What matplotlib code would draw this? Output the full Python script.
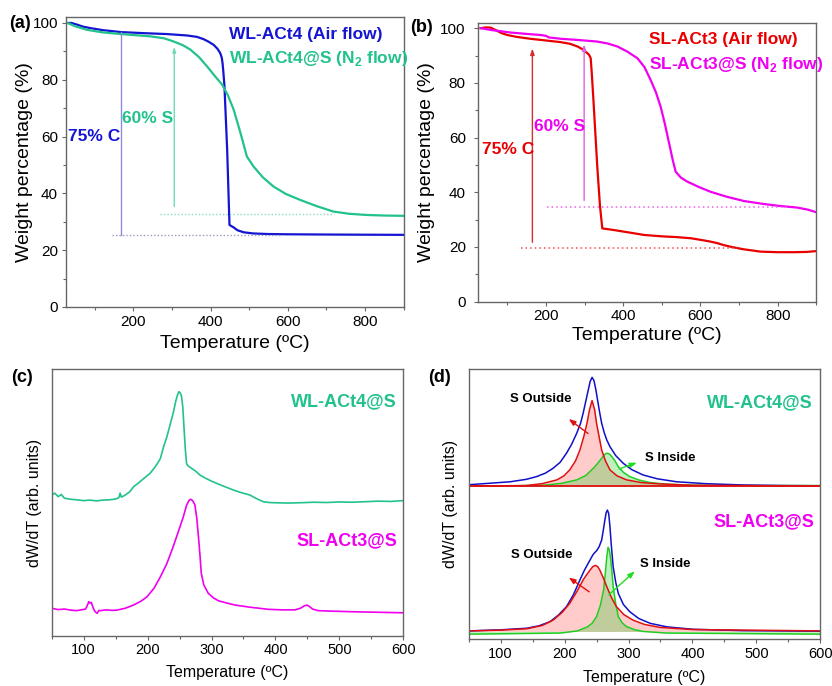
"""
TGA / DTG figure: (a,b) weight loss curves, (c) dW/dT, (d) dW/dT peak fits.
"""
import numpy as np
import matplotlib
matplotlib.use("Agg")
import matplotlib.pyplot as plt
from matplotlib.ticker import MultipleLocator

plt.rcParams["font.family"] = ["Liberation Sans", "DejaVu Sans"]
plt.rcParams["mathtext.fontset"] = "custom"
plt.rcParams["mathtext.rm"] = "Liberation Sans"
plt.rcParams["mathtext.bf"] = "Liberation Sans:bold"

# ---------------------------------------------------------------------------
#  Data
# ---------------------------------------------------------------------------
# (a) WL-ACt4 in air
wl_air_T = [30, 40, 55, 70, 89, 120, 168, 230, 287, 339, 365, 382, 395, 408, 418, 425, 429,
            431, 433, 436, 443, 449, 455, 460, 470, 486, 510, 546, 600, 720, 900]
wl_air_W = [100, 100, 99.4, 98.7, 98.2, 97.5, 96.8, 96.4, 96.1, 95.6, 95.1, 94.3, 93.4, 92.3,
            90.9, 89.4, 87.8, 85.9, 83.0, 77.7, 55.3, 28.9, 28.4, 28.0, 27.0, 26.3, 25.9,
            25.7, 25.6, 25.5, 25.4]
# (a) WL-ACt4@S in N2
wl_s_T = [30, 50, 80, 120, 168, 244, 280, 304, 328, 348, 370, 391, 410, 430, 445, 460, 477,
          494, 511, 535, 563, 595, 632, 675, 718, 760, 805, 850, 900]
wl_s_W = [100, 98.8, 97.6, 96.7, 96.1, 95.3, 94.6, 93.5, 92.2, 90.6, 88.0, 84.7, 81.5, 78.3,
          74.5, 69.4, 61.5, 53.0, 49.5, 45.7, 42.4, 39.8, 37.7, 35.5, 33.6, 32.8, 32.4, 32.2, 32.1]

# (b) SL-ACt3 in air
sl_air_T = [31, 45, 57, 70, 85, 100, 125, 161, 200, 238, 262, 282, 296, 307, 312, 316, 319,
            323, 333, 340, 346, 376, 420, 454, 500, 540, 575, 601, 625, 644, 660, 678, 710,
            756, 800, 842, 875, 900]
sl_air_W = [100, 100.3, 100.2, 99.3, 98.2, 97.5, 96.8, 96.1, 95.5, 94.9, 94.3, 93.3, 92.2,
            90.9, 90.2, 89.0, 83.0, 73.8, 49.4, 35.0, 26.8, 26.2, 25.2, 24.4, 23.9, 23.6,
            23.2, 22.6, 22.0, 21.4, 20.7, 20.1, 19.2, 18.3, 18.1, 18.1, 18.2, 18.5]
# (b) SL-ACt3@S in N2
sl_s_T = [31, 60, 109, 150, 187, 200, 208, 240, 282, 333, 360, 385, 410, 437, 455, 471, 485,
          497, 508, 519, 528, 536, 550, 566, 595, 626, 670, 713, 760, 799, 851, 880, 900]
sl_s_W = [100, 99.3, 98.4, 97.9, 97.5, 97.2, 96.6, 96.1, 95.7, 95.1, 94.4, 93.3, 91.5, 89.0,
          85.8, 81.1, 76.5, 71.3, 65.0, 57.9, 52.0, 47.5, 45.3, 43.9, 42.0, 40.2, 38.3, 36.8,
          35.8, 35.1, 34.4, 33.6, 32.7]

# (c) dW/dT, arbitrary units, offset curves
dtg_wl_T = [50, 55, 60, 65, 70, 80, 90, 100, 110, 120, 130, 140, 150, 155, 157, 159, 165, 172,
            178, 185, 192, 199, 204, 210, 215, 220, 225, 230, 235, 240, 244, 247, 249, 251,
            253, 255, 257, 259, 261, 264, 269, 275, 282, 290, 300, 308, 318, 334, 345, 360,
            370, 381, 390, 400, 420, 438, 460, 480, 500, 520, 540, 560, 580, 600]
dtg_wl_y = [0.528, 0.535, 0.522, 0.53, 0.516, 0.512, 0.51, 0.507, 0.509, 0.506, 0.509, 0.51,
            0.513, 0.518, 0.535, 0.52, 0.528, 0.54, 0.559, 0.572, 0.586, 0.6, 0.61, 0.628,
            0.645, 0.665, 0.709, 0.745, 0.79, 0.835, 0.88, 0.905, 0.916, 0.912, 0.9, 0.86,
            0.78, 0.7, 0.645, 0.636, 0.628, 0.618, 0.603, 0.592, 0.58, 0.572, 0.562, 0.547,
            0.538, 0.528, 0.515, 0.503, 0.5, 0.499, 0.498, 0.499, 0.501, 0.5, 0.502, 0.501,
            0.503, 0.505, 0.504, 0.507]
dtg_sl_T = [50, 60, 70, 80, 89, 96, 103, 106, 108, 110, 112, 114, 116, 118, 121, 124, 126, 135,
            145, 152, 165, 178, 190, 199, 210, 220, 230, 240, 248, 256, 261, 265, 267, 269,
            271, 274, 277, 280, 282, 284, 288, 295, 303, 311, 325, 337, 360, 389, 410, 431,
            440, 445, 449, 453, 458, 467, 490, 520, 560, 600]
dtg_sl_y = [0.103, 0.098, 0.1, 0.096, 0.094, 0.097, 0.1, 0.115, 0.128, 0.122, 0.125, 0.11,
            0.098, 0.09, 0.084, 0.095, 0.094, 0.097, 0.095, 0.096, 0.103, 0.115, 0.13, 0.146,
            0.178, 0.221, 0.27, 0.334, 0.39, 0.447, 0.49, 0.508, 0.512, 0.51, 0.505, 0.491,
            0.44, 0.359, 0.3, 0.234, 0.19, 0.159, 0.142, 0.131, 0.122, 0.115, 0.107, 0.099,
            0.097, 0.097, 0.104, 0.112, 0.115, 0.11, 0.1, 0.094, 0.092, 0.09, 0.088, 0.086]

# (d) peak fits, WL-ACt4@S (top)
fit_wl_T = [50, 80, 115, 140, 156, 170, 182, 193, 203, 211, 219, 225, 229, 233, 237, 240, 243,
            246, 249, 252, 255, 258, 262, 266, 271, 280, 292, 305, 323, 345, 375, 420, 480,
            540, 600]
fit_wl_sum = [0.572, 0.577, 0.583, 0.592, 0.602, 0.615, 0.633, 0.655, 0.689, 0.722, 0.763,
              0.8, 0.837, 0.88, 0.923, 0.955, 0.970, 0.958, 0.923, 0.88, 0.838, 0.8, 0.765,
              0.738, 0.713, 0.68, 0.651, 0.628, 0.608, 0.594, 0.583, 0.576, 0.571, 0.569, 0.568]
out_wl_T = [50, 100, 140, 165, 188, 199, 208, 217, 224, 230, 235, 239, 243, 247, 250, 254,
            258, 264, 271, 282, 297, 320, 349, 400, 600]
out_wl_y = [0.567, 0.568, 0.569, 0.576, 0.590, 0.605, 0.627, 0.66, 0.701, 0.75, 0.800, 0.85,
            0.884, 0.85, 0.800, 0.75, 0.701, 0.66, 0.627, 0.605, 0.590, 0.58, 0.575, 0.57, 0.567]
in_wl_T = [50, 120, 167, 195, 219, 233, 245, 252, 258, 262, 266, 270, 274, 279, 284, 292, 302,
           317, 334, 360, 401, 500, 600]
in_wl_y = [0.567, 0.568, 0.570, 0.577, 0.590, 0.606, 0.633, 0.652, 0.670, 0.683, 0.689, 0.686,
           0.676, 0.66, 0.639, 0.618, 0.602, 0.589, 0.580, 0.574, 0.570, 0.569, 0.569]

# (d) peak fits, SL-ACt3@S (bottom)
fit_sl_T = [50, 100, 141, 160, 177, 190, 203, 214, 224, 231, 237, 241, 244, 247, 250, 254, 258,
            261, 263, 265, 267, 269, 271, 273, 276, 280, 284, 292, 302, 316, 334, 360, 401,
            480, 600]
fit_sl_sum = [0.030, 0.034, 0.040, 0.049, 0.064, 0.088, 0.120, 0.165, 0.219, 0.255, 0.281,
              0.298, 0.311, 0.32, 0.327, 0.342, 0.367, 0.41, 0.441, 0.468, 0.478, 0.465, 0.416,
              0.35, 0.268, 0.21, 0.169, 0.128, 0.101, 0.076, 0.058, 0.045, 0.036, 0.031, 0.029]
out_sl_T = [50, 100, 141, 165, 182, 196, 208, 219, 229, 235, 240, 244, 248, 252, 255, 260, 266,
            273, 281, 293, 307, 325, 349, 400, 600]
out_sl_y = [0.030, 0.033, 0.038, 0.05, 0.070, 0.098, 0.132, 0.175, 0.219, 0.240, 0.256, 0.268,
            0.273, 0.268, 0.256, 0.23, 0.194, 0.155, 0.120, 0.09, 0.070, 0.054, 0.043, 0.035, 0.030]
in_sl_T = [50, 193, 220, 235, 243, 250, 256, 261, 264, 266, 268, 270, 272, 274, 276, 280, 284,
           290, 297, 310, 323, 360, 600]
in_sl_y = [0.018, 0.022, 0.03, 0.044, 0.058, 0.083, 0.125, 0.182, 0.25, 0.305, 0.340, 0.33,
           0.3, 0.25, 0.194, 0.13, 0.083, 0.06, 0.046, 0.034, 0.028, 0.022, 0.018]

# composition markers
c_wl, s_wl = 25.4, 32.7     # residual levels, panel (a)
c_sl, s_sl = 19.5, 34.5     # residual levels, panel (b)

BLUE = "#1414d2"
GREEN = "#22c28c"
RED = "#e80000"
MAG = "#f000f0"

# ---------------------------------------------------------------------------
#  Figure layout (pixel boxes -> figure fractions)
# ---------------------------------------------------------------------------
W, H = 832, 686
fig = plt.figure(figsize=(W / 100, H / 100), dpi=100)

def box(l, t, r, b):
    return [l / W, 1 - b / H, (r - l) / W, (b - t) / H]

ax_a = fig.add_axes(box(65.7, 17.3, 403.7, 307))
ax_b = fig.add_axes(box(478.3, 22.7, 816.3, 301.7))
ax_c = fig.add_axes(box(51.7, 369.3, 403.3, 635.7))
ax_d = fig.add_axes(box(468.7, 369.3, 820.3, 639))

def style(ax, big=True):
    for s in ax.spines.values():
        s.set_color("0.4")
        s.set_linewidth(1.0)
    ax.tick_params(direction="out", length=3, width=0.8, color="0.4", pad=2.5,
                   labelsize=11 if big else 10.5)
    ax.tick_params(which="minor", direction="out", length=2, width=0.8, color="0.4")

# --- (a) ---
ax = ax_a
ax.plot(wl_air_T, wl_air_W, color=BLUE, lw=1.6)
ax.plot(wl_s_T, wl_s_W, color=GREEN, lw=1.6)
ax.plot([168, 168], [c_wl, 96.8], color="#8c8cd8", lw=1.0)
ax.annotate("", xy=(306, 92.6), xytext=(306, 34.4),
            arrowprops=dict(arrowstyle="-|>,head_length=0.3,head_width=0.1", color="#6fdab4", lw=1.0))
ax.plot([145, 580], [c_wl, c_wl], color="#9a9ac0", lw=1.0, ls=(0, (1, 1.5)))
ax.plot([270, 720], [s_wl, s_wl], color="#86dcbc", lw=1.0, ls=(0, (1, 1.5)))
ax.text(99, 60, "75% C", color=BLUE, fontsize=12.5, fontweight="bold", ha="center", va="center")
ax.text(236, 66.5, "60% S", color=GREEN, fontsize=12.5, fontweight="bold", ha="center", va="center")
ax.text(449, 96.1, "WL-ACt4 (Air flow)", color=BLUE, fontsize=12.5, fontweight="bold", va="center")
ax.text(449, 87.4, r"WL-ACt4@S (N$_\mathbf{2}$ flow)", color=GREEN, fontsize=12.5,
        fontweight="bold", va="center")
ax.set_xlim(25, 900); ax.set_ylim(0, 102)
ax.xaxis.set_major_locator(MultipleLocator(200)); ax.xaxis.set_minor_locator(MultipleLocator(100))
ax.yaxis.set_major_locator(MultipleLocator(20)); ax.yaxis.set_minor_locator(MultipleLocator(10))
ax.set_xlabel("Temperature (ºC)", fontsize=14)
ax.set_ylabel("Weight percentage (%)", fontsize=14)
ax.xaxis.set_label_coords(0.5, -0.095)
ax.yaxis.set_label_coords(-0.097, 0.5)
style(ax)

# --- (b) ---
ax = ax_b
ax.plot(sl_air_T, sl_air_W, color=RED, lw=1.6)
ax.plot(sl_s_T, sl_s_W, color=MAG, lw=1.6)
ax.annotate("", xy=(165, 93.6), xytext=(165, 20.7),
            arrowprops=dict(arrowstyle="-|>,head_length=0.35,head_width=0.12", color="#d23030", lw=1.0))
ax.annotate("", xy=(299, 95.1), xytext=(299, 36),
            arrowprops=dict(arrowstyle="-|>,head_length=0.35,head_width=0.12", color="#e060e0", lw=1.0))
ax.plot([135, 695], [c_sl, c_sl], color="#f05050", lw=1.1, ls=(0, (1, 2)))
ax.plot([204, 825], [s_sl, s_sl], color="#f060f0", lw=1.1, ls=(0, (1, 2)))
ax.text(34, 55.5, "75% C", color=RED, fontsize=12.5, fontweight="bold", ha="left", va="center")
ax.text(235, 64, "60% S", color=MAG, fontsize=12.5, fontweight="bold", ha="center", va="center")
ax.text(467, 95.7, "SL-ACt3 (Air flow)", color=RED, fontsize=12.5, fontweight="bold", va="center")
ax.text(467, 86.6, r"SL-ACt3@S (N$_\mathbf{2}$ flow)", color=MAG, fontsize=12.5,
        fontweight="bold", va="center")
ax.set_xlim(25, 900); ax.set_ylim(0, 102)
ax.xaxis.set_major_locator(MultipleLocator(200)); ax.xaxis.set_minor_locator(MultipleLocator(100))
ax.yaxis.set_major_locator(MultipleLocator(20)); ax.yaxis.set_minor_locator(MultipleLocator(10))
ax.set_xlabel("Temperature (ºC)", fontsize=14)
ax.set_ylabel("Weight percentage (%)", fontsize=14)
ax.xaxis.set_label_coords(0.5, -0.09)
ax.yaxis.set_label_coords(-0.128, 0.5)
ax.tick_params(axis="y", pad=6)
style(ax)
ax.tick_params(axis="y", pad=6)

# --- (c) ---
ax = ax_c
ax.plot(dtg_wl_T, dtg_wl_y, color=GREEN, lw=1.2)
ax.plot(dtg_sl_T, dtg_sl_y, color=MAG, lw=1.2)
ax.text(590, 0.88, "WL-ACt4@S", color=GREEN, fontsize=13, fontweight="bold", ha="right", va="center")
ax.text(590, 0.355, "SL-ACt3@S", color=MAG, fontsize=13, fontweight="bold", ha="right", va="center")
ax.set_xlim(50, 600); ax.set_ylim(0, 1)
ax.xaxis.set_major_locator(MultipleLocator(100)); ax.xaxis.set_minor_locator(MultipleLocator(50))
ax.set_yticks([])
ax.set_xlabel("Temperature (ºC)", fontsize=11.5)
ax.set_ylabel("dW/dT (arb. units)", fontsize=11.5)
ax.xaxis.set_label_coords(0.5, -0.11)
ax.yaxis.set_label_coords(-0.028, 0.5)
style(ax, big=False)

# --- (d) ---
ax = ax_d
for T_out, y_out, T_in, y_in, T_sum, y_sum, base in [
        (out_wl_T, out_wl_y, in_wl_T, in_wl_y, fit_wl_T, fit_wl_sum, 0.567),
        (out_sl_T, out_sl_y, in_sl_T, in_sl_y, fit_sl_T, fit_sl_sum, 0.028)]:
    ax.fill_between(T_out, y_out, base, color="#ff3030", alpha=0.25, lw=0)
    ax.fill_between(T_in, y_in, base, color="#30d030", alpha=0.3, lw=0)
    ax.plot(T_in, y_in, color="#22cc22", lw=1.1)
    ax.plot(T_sum, y_sum, color="#1010c8", lw=1.1)
    ax.plot(T_out, y_out, color="#e01010", lw=1.1)
ax.axhline(0.567, color="#e01010", lw=1.3)

arrow_r = dict(arrowstyle="-|>,head_length=0.4,head_width=0.15", color="#e01010", lw=1.0)
arrow_g = dict(arrowstyle="-|>,head_length=0.4,head_width=0.15", color="#22dd22", lw=1.0)
ax.annotate("", xy=(203, 0.822), xytext=(240, 0.756), arrowprops=arrow_r)
ax.annotate("", xy=(317, 0.657), xytext=(281, 0.627), arrowprops=arrow_g)
ax.annotate("", xy=(203, 0.234), xytext=(242, 0.169), arrowprops=arrow_r)
ax.annotate("", xy=(313, 0.258), xytext=(266, 0.157), arrowprops=arrow_g)
ax.text(162, 0.889, "S Outside", fontsize=9.5, fontweight="bold", ha="center", va="center")
ax.text(365, 0.672, "S Inside", fontsize=9.5, fontweight="bold", ha="center", va="center")
ax.text(164, 0.311, "S Outside", fontsize=9.5, fontweight="bold", ha="center", va="center")
ax.text(357, 0.277, "S Inside", fontsize=9.5, fontweight="bold", ha="center", va="center")
ax.text(588, 0.877, "WL-ACt4@S", color=GREEN, fontsize=13, fontweight="bold", ha="right", va="center")
ax.text(590, 0.433, "SL-ACt3@S", color=MAG, fontsize=13, fontweight="bold", ha="right", va="center")
ax.set_xlim(50, 600); ax.set_ylim(0, 1)
ax.xaxis.set_major_locator(MultipleLocator(100)); ax.xaxis.set_minor_locator(MultipleLocator(50))
ax.set_yticks([])
ax.set_xlabel("Temperature (ºC)", fontsize=11.5)
ax.set_ylabel("dW/dT (arb. units)", fontsize=11.5)
ax.xaxis.set_label_coords(0.5, -0.115)
ax.yaxis.set_label_coords(-0.03, 0.5)
style(ax, big=False)

# panel letters
for lbl, x, y in [("(a)", 9, 23), ("(b)", 410, 27), ("(c)", 11, 378), ("(d)", 428, 378)]:
    fig.text(x / W, 1 - y / H, lbl, fontsize=13, fontweight="bold", ha="left", va="center")

fig.savefig("out.png", dpi=100)
